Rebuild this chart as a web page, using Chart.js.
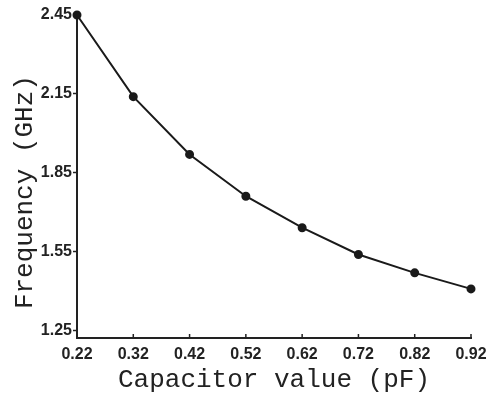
<!DOCTYPE html>
<html>
<head>
<meta charset="UTF-8">
<title>Frequency vs capacitor</title>
<script src="https://cdn.jsdelivr.net/npm/chart.js"></script>
<style>
  html, body { margin: 0; padding: 0; background: #fff; }
  #wrap { width: 490px; height: 396px; }
</style>
</head>
<body>
<div id="wrap"><canvas id="chart" width="490" height="396"></canvas></div>
<script>
// values
const capacitance = [0.22, 0.32, 0.42, 0.52, 0.62, 0.72, 0.82, 0.92];
const frequency = [2.45, 2.139, 1.919, 1.760, 1.640, 1.538, 1.468, 1.407];
const xTicks = [0.22, 0.32, 0.42, 0.52, 0.62, 0.72, 0.82, 0.92];
const yTicks = [1.25, 1.55, 1.85, 2.15, 2.45];

const tickFont = { family: 'Liberation Sans, Arial, sans-serif', size: 16, weight: 'bold' };
const titleFont = { family: 'Liberation Mono, Courier New, monospace', size: 26 };

// x ticks in the picture point into the plot
const innerTicks = {
    id: 'innerTicks',
    afterDraw(chart) {
        const ctx = chart.ctx;
        const x = chart.scales.x;
        ctx.save();
        ctx.strokeStyle = '#222';
        ctx.lineWidth = 1.5;
        xTicks.forEach(v => {
            const px = x.getPixelForValue(v);
            ctx.beginPath();
            ctx.moveTo(px, x.top);
            ctx.lineTo(px, x.top - 4);
            ctx.stroke();
        });
        ctx.restore();
    }
};

new Chart(document.getElementById('chart'), {
    type: 'line',
    data: {
        datasets: [{
            data: capacitance.map((c, i) => ({ x: c, y: frequency[i] })),
            borderColor: '#1a1a1a',
            backgroundColor: '#1a1a1a',
            borderWidth: 2,
            pointRadius: 3.5,
            pointHoverRadius: 3.5,
            tension: 0,
            clip: false
        }]
    },
    options: {
        responsive: false,
        animation: false,
        layout: { padding: { top: 15, right: 19, left: 0, bottom: 0 } },
        plugins: { legend: { display: false }, tooltip: { enabled: false } },
        scales: {
            x: {
                type: 'linear',
                min: 0.22,
                max: 0.92,
                afterBuildTicks: s => { s.ticks = xTicks.map(v => ({ value: v })); },
                afterFit: s => { s.height = 58; s.paddingLeft = 0; s.paddingRight = 0; },
                grid: { display: true, drawOnChartArea: false, drawTicks: false },
                border: { display: true, color: '#222', width: 2 },
                ticks: {
                    color: '#222',
                    font: tickFont,
                    padding: 7,
                    maxRotation: 0,
                    callback: v => v.toFixed(2)
                },
                title: {
                    display: true,
                    text: 'Capacitor value (pF)',
                    color: '#222',
                    font: titleFont,
                    padding: { top: 0, bottom: 0 }
                }
            },
            y: {
                type: 'linear',
                min: 1.22,
                max: 2.45,
                afterBuildTicks: s => { s.ticks = yTicks.map(v => ({ value: v })); },
                afterFit: s => { s.width = 77; s.paddingTop = 0; s.paddingBottom = 0; },
                grid: { display: true, drawOnChartArea: false, tickLength: 4, tickColor: '#222', tickWidth: 1.5 },
                border: { display: true, color: '#222', width: 2 },
                ticks: {
                    color: '#222',
                    font: tickFont,
                    padding: 1,
                    callback: v => v.toFixed(2)
                },
                title: {
                    display: true,
                    text: 'Frequency (GHz)  ',
                    color: '#222',
                    font: titleFont,
                    padding: { top: 10, bottom: 0 }
                }
            }
        }
    },
    plugins: [innerTicks]
});
</script>
</body>
</html>
